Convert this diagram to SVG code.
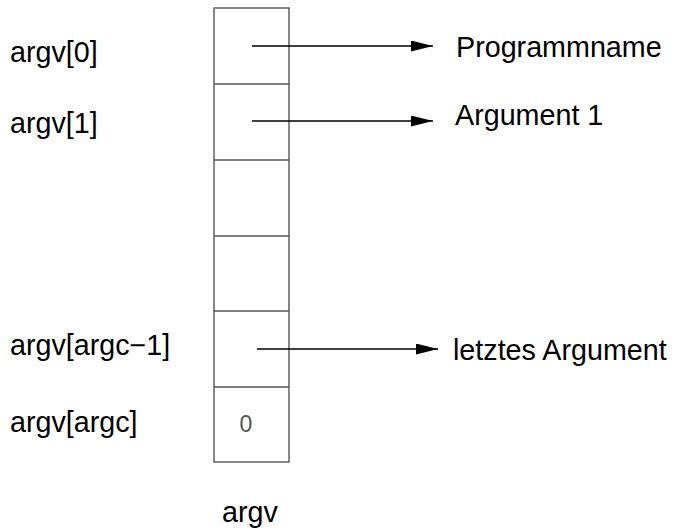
<svg xmlns="http://www.w3.org/2000/svg" width="675" height="530" viewBox="0 0 675 530">
<defs>
<marker id="ah" viewBox="0 0 22 11" refX="22" refY="5.5" markerWidth="22" markerHeight="11" markerUnits="userSpaceOnUse" orient="auto"><path d="M0,0 L22,5.5 L0,11 Z" fill="#000"/></marker>
</defs>
<style>
.t{font-family:"Liberation Sans",Arial,sans-serif;font-size:28.7px;fill:#000}
.cell{fill:none;stroke:#555;stroke-width:1.4}
.c{stroke:#000;stroke-width:1.5;fill:none}
.z{font-family:"Liberation Sans",Arial,sans-serif;font-size:23px;fill:#555;text-anchor:middle}
</style>
<rect width="675" height="530" fill="#fff"/>
<g id="array">
<rect class="cell" x="214" y="8" width="75" height="454"/>
<line class="cell" x1="214" y1="84" x2="289" y2="84"/>
<line class="cell" x1="214" y1="160" x2="289" y2="160"/>
<line class="cell" x1="214" y1="236" x2="289" y2="236"/>
<line class="cell" x1="214" y1="311" x2="289" y2="311"/>
<line class="cell" x1="214" y1="387" x2="289" y2="387"/>
<text class="z" x="246" y="432">0</text>
</g>
<g id="labels">
<text class="t" x="10" y="62">argv[0]</text>
<text class="t" x="10" y="133">argv[1]</text>
<text class="t" x="10" y="355">argv[argc−1]</text>
<text class="t" x="10" y="432">argv[argc]</text>
<text class="t" x="222" y="522">argv</text>
</g>
<g id="targets">
<text class="t" x="456" y="57">Programmname</text>
<text class="t" x="455" y="125">Argument 1</text>
<text class="t" x="453" y="360">letztes Argument</text>
</g>
<g id="connectors">
<line class="c" x1="252" y1="46" x2="433" y2="46" marker-end="url(#ah)"/>
<line class="c" x1="252" y1="121" x2="433" y2="121" marker-end="url(#ah)"/>
<line class="c" x1="257" y1="349" x2="438" y2="349" marker-end="url(#ah)"/>
</g>
</svg>
